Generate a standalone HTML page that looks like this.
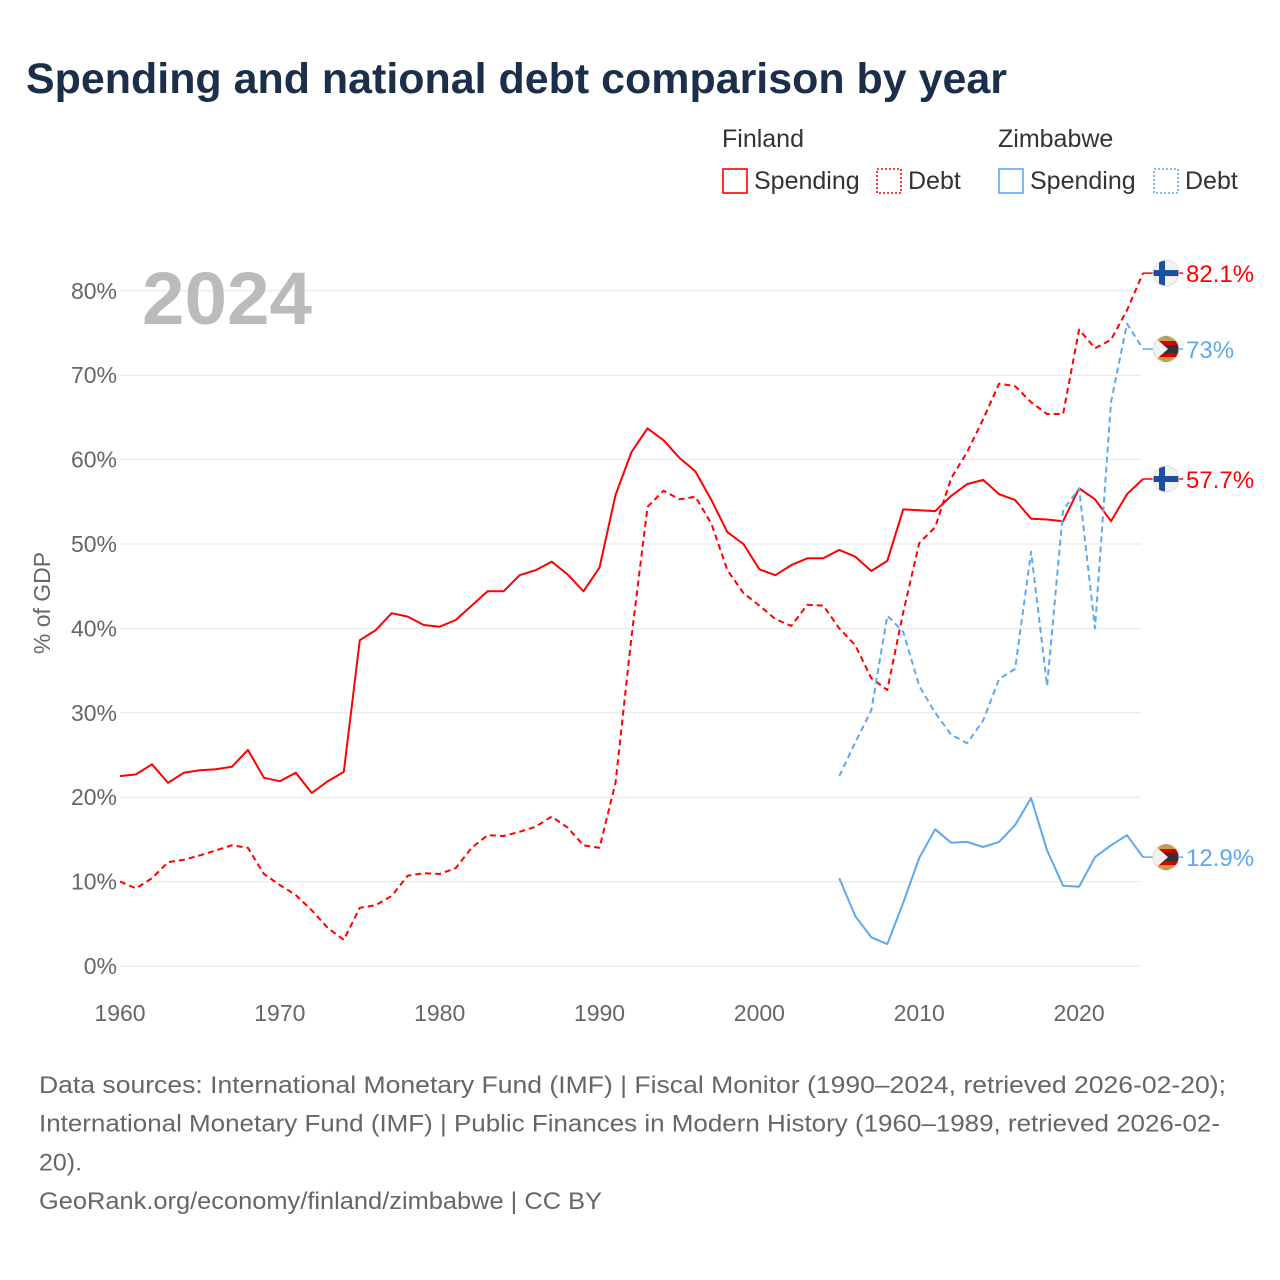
<!DOCTYPE html>
<html><head><meta charset="utf-8"><style>
body{margin:0;background:#fff;font-family:"Liberation Sans",sans-serif;}
#wrap{position:relative;width:1280px;height:1280px;overflow:hidden;}
</style></head><body><div id="wrap">
<svg id="svg" width="1280" height="1280" style="position:absolute;left:0;top:0"></svg>
</div>
<script>
const finYears=[];for(let y=1960;y<=2024;y++)finYears.push(y);
const zimYears=[];for(let y=2005;y<=2024;y++)zimYears.push(y);
const finSpending=[22.5,22.7,23.9,21.7,22.9,23.2,23.3,23.6,25.6,22.3,21.9,22.9,20.5,21.9,23.0,38.6,39.8,41.8,41.4,40.4,40.2,41.0,42.7,44.4,44.4,46.3,46.9,47.9,46.4,44.4,47.2,55.8,60.9,63.7,62.3,60.2,58.6,55.2,51.4,50.0,47.0,46.3,47.5,48.3,48.3,49.3,48.5,46.8,48.0,54.1,54.0,53.9,55.7,57.1,57.6,55.9,55.2,53.0,52.9,52.7,56.6,55.3,52.7,55.9,57.7];
const finDebt=[10.0,9.2,10.4,12.3,12.6,13.1,13.7,14.3,14.0,10.9,9.6,8.4,6.6,4.5,3.1,6.9,7.2,8.3,10.7,11.0,10.9,11.6,14.0,15.5,15.4,15.9,16.5,17.7,16.4,14.3,14.0,21.7,39.0,54.4,56.3,55.3,55.6,52.4,46.9,44.2,42.7,41.1,40.3,42.8,42.7,40.0,38.0,34.1,32.7,41.9,50.1,52.0,57.8,60.9,64.8,69.0,68.7,66.8,65.4,65.4,75.4,73.2,74.2,77.7,82.1];
const zimSpending=[10.4,5.9,3.4,2.6,7.5,12.8,16.2,14.6,14.7,14.1,14.7,16.7,19.9,13.7,9.5,9.4,12.9,14.3,15.5,12.9];
const zimDebt=[22.5,26.5,30.3,41.5,39.6,33.2,30.0,27.4,26.4,29.1,34.0,35.2,49.1,33.2,54.0,56.6,40.0,66.8,76.1,73.1];
const yTicks=[0,10,20,30,40,50,60,70,80];
const xTicks=[1960,1970,1980,1990,2000,2010,2020];

const NS="http://www.w3.org/2000/svg";
const svg=document.getElementById('svg');
const X0=120,X1=1141,Y0=966,YPER=8.44;
const xs=y=>X0+(y-1960)*(1143-X0)/64;
const ys=v=>Y0-v*YPER;
function mk(tag,attrs,parent){const e=document.createElementNS(NS,tag);for(const k in attrs)e.setAttribute(k,attrs[k]);(parent||svg).appendChild(e);return e;}
function txt(s,attrs){const t=mk('text',attrs);t.textContent=s;return t;}

let t=txt('Spending and national debt comparison by year',{x:26,y:93,'font-size':43,'font-weight':'bold',fill:'#1b2f4b',textLength:981,lengthAdjust:'spacingAndGlyphs'});


function legendHead(s,x){const e=txt(s,{x:x,y:147,'font-size':25,fill:'#333'});}
legendHead('Finland',722);legendHead('Zimbabwe',998);
function legendItem(x,color,dash,label,name){
 const g=mk('g',{});
 mk('rect',{x:x,y:169,width:24,height:24,fill:'none',stroke:color,'stroke-width':1.6,'stroke-dasharray':dash?'2,2':'none'},g);
 const e=mk('text',{x:x+31,y:189,'font-size':25,fill:'#333'},g);e.textContent=label;}
legendItem(723,'#f00',false,'Spending','legend-finland-spending');
legendItem(877,'#f00',true,'Debt','legend-finland-debt');
legendItem(999,'#5ea8ee',false,'Spending','legend-zimbabwe-spending');
legendItem(1154,'#5ea8ee',true,'Debt','legend-zimbabwe-debt');

yTicks.forEach(v=>{
 const l=mk('line',{x1:X0,x2:X1,y1:ys(v),y2:ys(v),stroke:'#e6e6e6','stroke-width':1});
 
 const e=txt(v+'%',{x:117,y:ys(v)+8,'font-size':23,fill:'#666','text-anchor':'end'});
 
});
xTicks.forEach(y=>{
 const e=txt(String(y),{x:xs(y),y:1021,'font-size':23,fill:'#666','text-anchor':'middle'});
 
});
t=txt('% of GDP',{x:0,y:0,'font-size':23,fill:'#666','text-anchor':'middle',transform:'translate(50,603) rotate(-90)'});

t=txt('2024',{x:142,y:324,'font-size':74,'font-weight':'bold',fill:'#bbb',textLength:170,lengthAdjust:'spacingAndGlyphs'});


function line(years,vals,color,dash,name){
 const d=years.map((y,i)=>(i?'L':'M')+xs(y).toFixed(1)+','+ys(vals[i]).toFixed(1)).join(' ');
 const p=mk('path',{d:d,fill:'none',stroke:color,'stroke-width':2,'stroke-dasharray':dash?'6,4':'none','stroke-linejoin':'round'});
 
}
line(finYears,finSpending,'#f00',false,'finland-spending-line');
line(finYears,finDebt,'#f00',true,'finland-debt-line');
line(zimYears,zimSpending,'#5ea8ee',false,'zimbabwe-spending-line');
line(zimYears,zimDebt,'#5ea8ee',true,'zimbabwe-debt-line');

function endLabel(v,color,flag,label,name){
 const y=ys(v),cx=1166;
 const g=mk('g',{});
 mk('line',{x1:1143,x2:1183,y1:y,y2:y,stroke:color,'stroke-width':1.5},g);
 const cid='c'+Math.round(y);
 const cp=mk('clipPath',{id:cid},g);mk('circle',{cx:cx,cy:y,r:13},cp);
 const f=mk('g',{'clip-path':`url(#${cid})`},g);
 if(flag==='fin'){
  mk('rect',{x:cx-14,y:y-14,width:28,height:28,fill:'#f2f2f2'},f);
  mk('rect',{x:cx-14,y:y-3,width:28,height:6,fill:'#1a4fa0'},f);
  mk('rect',{x:cx-7,y:y-14,width:6,height:28,fill:'#1a4fa0'},f);
 } else {
  mk('rect',{x:cx-14,y:y-14,width:28,height:28,fill:'#333'},f);
  mk('rect',{x:cx-14,y:y-8,width:28,height:4,fill:'#d40000'},f);
  mk('rect',{x:cx-14,y:y+4,width:28,height:4,fill:'#d40000'},f);
  mk('rect',{x:cx-14,y:y-12,width:28,height:4,fill:'#c9a040'},f);
  mk('rect',{x:cx-14,y:y+8,width:28,height:4,fill:'#c9a040'},f);
  mk('path',{d:`M${cx-14},${y-14} L${cx+2},${y} L${cx-14},${y+14}Z`,fill:'#f2f2f2'},f);
 }
 mk('circle',{cx:cx,cy:y,r:13,fill:'none',stroke:'#ddd','stroke-width':1},g);
 const e=mk('text',{x:1186,y:y+9,'font-size':24,fill:color},g);e.textContent=label;
}
endLabel(finDebt[finDebt.length-1],'#f00','fin','82.1%','finland-debt-end-label');
endLabel(zimDebt[zimDebt.length-1],'#5ea8ee','zim','73%','zimbabwe-debt-end-label');
endLabel(finSpending[finSpending.length-1],'#f00','fin','57.7%','finland-spending-end-label');
endLabel(zimSpending[zimSpending.length-1],'#5ea8ee','zim','12.9%','zimbabwe-spending-end-label');

const foot=['Data sources: International Monetary Fund (IMF) | Fiscal Monitor (1990–2024, retrieved 2026-02-20);','International Monetary Fund (IMF) | Public Finances in Modern History (1960–1989, retrieved 2026-02-','20).','GeoRank.org/economy/finland/zimbabwe | CC BY'];
const footLen=[1187,1181,43,563];
foot.forEach((s,i)=>{const e=txt(s,{x:39,y:1093+i*38.7,'font-size':24,fill:'#666',textLength:footLen[i],lengthAdjust:'spacingAndGlyphs'});
 });
</script></body></html>
